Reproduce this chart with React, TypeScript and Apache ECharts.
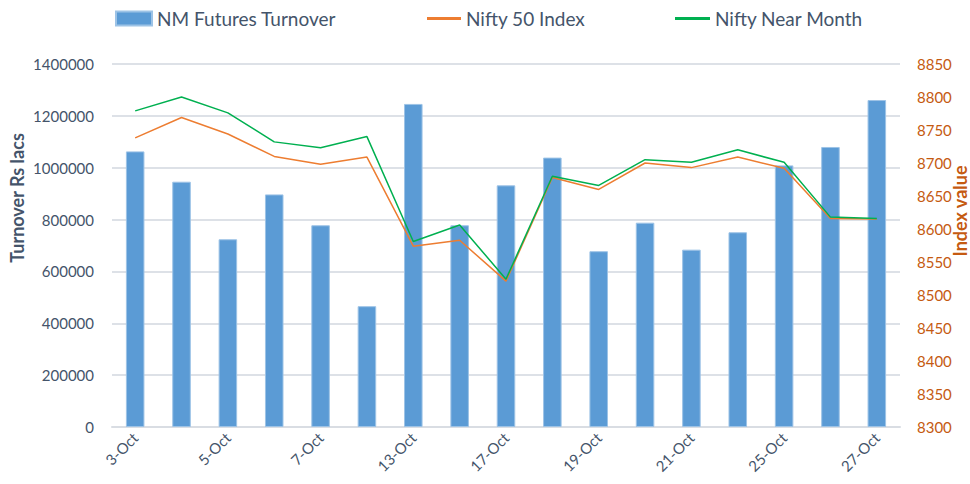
import React, { useEffect, useRef } from "react";
import * as echarts from "echarts";

const categories = ["3-Oct","4-Oct","5-Oct","6-Oct","7-Oct","10-Oct","13-Oct","14-Oct","17-Oct","18-Oct","19-Oct","20-Oct","21-Oct","24-Oct","25-Oct","26-Oct","27-Oct"];
const turnover = [1063000, 946000, 724000, 897000, 778000, 466000, 1246000, 778000, 932000, 1039000, 678000, 788000, 684000, 751000, 1009000, 1080000, 1261000];
const nifty50 = [8738, 8769, 8744, 8710, 8698, 8709, 8574, 8583, 8521, 8678, 8660, 8700, 8693, 8709, 8692, 8616, 8615];
const niftyNear = [8779, 8800, 8776, 8732, 8723, 8740, 8581, 8606, 8524, 8680, 8666, 8705, 8701, 8720, 8701, 8618, 8616];
const leftTicks = { min: 0, max: 1400000, interval: 200000 };
const rightTicks = { min: 8300, max: 8850, interval: 50 };

const FONT = "Lato";
const GRAY = "#44546a";
const ORANGE = "#c55a11";

export default function App() {
  const ref = useRef<HTMLDivElement>(null);
  useEffect(() => {
    if (!ref.current) return;
    const chart = echarts.init(ref.current, null, { renderer: "svg" });
    const legendText = { color: GRAY, fontSize: 19, fontFamily: FONT };
    const plain = (v: number) => String(v);
    chart.setOption({
      animation: false,
      textStyle: { fontFamily: FONT },
      legend: [
        { data: ["NM Futures Turnover"], left: 110, top: 4, icon: "rect", itemWidth: 36, itemHeight: 14, itemGap: 4, textStyle: legendText },
        { data: ["Nifty 50 Index"], left: 422, top: 4, icon: "rect", itemWidth: 34, itemHeight: 3, textStyle: legendText },
        { data: ["Nifty Near Month"], left: 670, top: 4, icon: "rect", itemWidth: 35, itemHeight: 3, textStyle: legendText },
      ],
      grid: { left: 112, right: 70, top: 64, bottom: 57 },
      xAxis: {
        type: "category",
        data: categories,
        boundaryGap: true,
        axisLine: { lineStyle: { color: "#d9dde3", width: 2 } },
        axisTick: { show: false },
        axisLabel: { interval: 1, rotate: 45, color: GRAY, fontSize: 15, fontFamily: FONT, margin: 8 },
      },
      yAxis: [
        {
          type: "value",
          ...leftTicks,
          axisLine: { show: false },
          axisTick: { show: false },
          splitLine: { lineStyle: { color: "#dde1e7", width: 2 } },
          axisLabel: { color: GRAY, fontSize: 15, fontFamily: FONT, margin: 18, formatter: plain },
        },
        {
          type: "value",
          ...rightTicks,
          position: "right",
          axisLine: { show: false },
          axisTick: { show: false },
          splitLine: { show: false },
          axisLabel: { color: ORANGE, fontSize: 15, fontFamily: FONT, margin: 17, formatter: plain },
        },
      ],
      graphic: [
        {
          type: "text",
          x: 17,
          y: 198,
          rotation: Math.PI / 2,
          style: { text: "Turnover Rs lacs", fill: GRAY, font: `bold 18px ${FONT}`, align: "center", verticalAlign: "middle" },
        },
        {
          type: "text",
          x: 960,
          y: 211,
          rotation: Math.PI / 2,
          style: { text: "Index value", fill: ORANGE, font: `bold 18px ${FONT}`, align: "center", verticalAlign: "middle" },
        },
      ],
      series: [
        {
          name: "NM Futures Turnover",
          type: "bar",
          data: turnover,
          barWidth: "40%",
          itemStyle: { color: "#5b9bd5", borderColor: "#9dc3e6", borderWidth: 1 },
        },
        {
          name: "Nifty 50 Index",
          type: "line",
          yAxisIndex: 1,
          data: nifty50,
          symbol: "none",
          lineStyle: { color: "#ed7d31", width: 1.5 },
          itemStyle: { color: "#ed7d31" },
        },
        {
          name: "Nifty Near Month",
          type: "line",
          yAxisIndex: 1,
          data: niftyNear,
          symbol: "none",
          lineStyle: { color: "#00b050", width: 1.5 },
          itemStyle: { color: "#00b050" },
        },
      ],
    });
    return () => chart.dispose();
  }, []);
  return <div ref={ref} style={{ position: "absolute", left: 0, top: 0, width: 970, height: 484 }} />;
}
